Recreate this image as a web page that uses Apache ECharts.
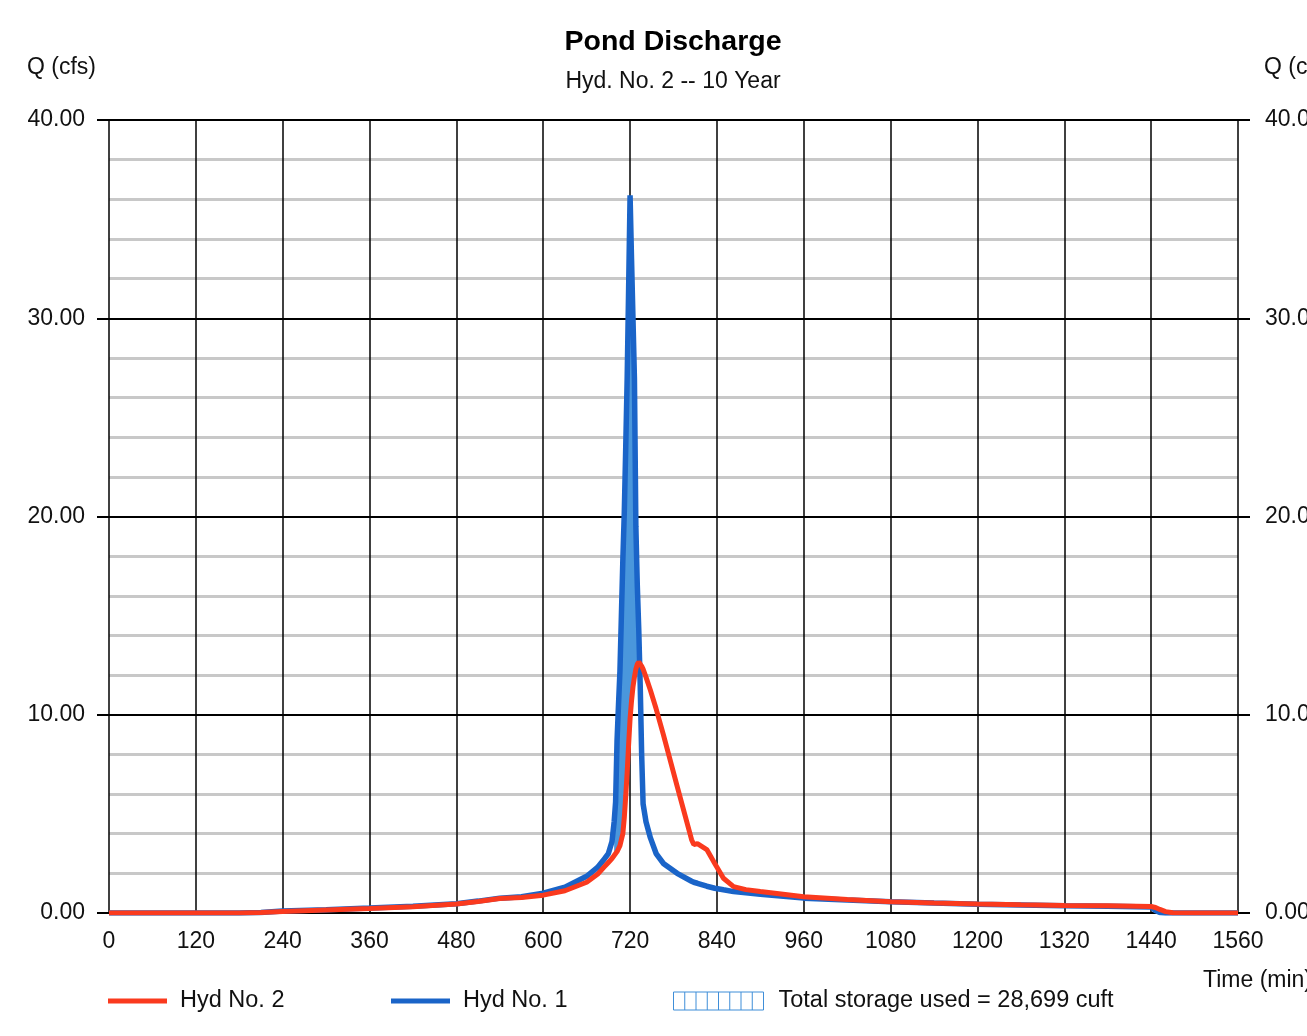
<!DOCTYPE html>
<html>
<head>
<meta charset="utf-8">
<script src="https://cdn.jsdelivr.net/npm/echarts@6/dist/echarts.min.js"></script>
<style>
html,body{margin:0;padding:0;background:#fff;}
#chart{width:1307px;height:1036px;}
</style>
</head>
<body>
<div id="chart"></div>
<script>
// Time (min)
var times = [0, 60, 120, 180, 210, 240, 300, 360, 420, 480, 510, 540, 570, 600, 630, 660, 675, 685, 690, 695, 698, 700, 702, 704, 706, 708, 710, 712, 714, 716, 718, 720, 722, 724, 726, 728, 730, 732, 734, 736, 738, 742, 748, 756, 766, 785, 805, 808, 813, 826, 837, 849, 863, 880, 900, 960, 1020, 1080, 1140, 1200, 1260, 1320, 1380, 1440, 1446, 1452, 1460, 1470, 1500, 1560];
// Hyd No. 1 (inflow), cfs
var hyd1 = [0, 0, 0, 0, 0.03, 0.1, 0.17, 0.25, 0.34, 0.47, 0.6, 0.75, 0.82, 1.0, 1.3, 1.85, 2.3, 2.75, 3.0, 3.6, 4.6, 5.6, 8.7, 10.5, 12.2, 15, 17.8, 20.2, 23.5, 27, 31.5, 36.2, 33, 30, 27, 19.5, 16.5, 14.3, 11.5, 8, 5.5, 4.6, 3.8, 3.0, 2.5, 2.0, 1.6, 1.55, 1.5, 1.35, 1.25, 1.17, 1.08, 1.02, 0.95, 0.75, 0.65, 0.57, 0.5, 0.44, 0.4, 0.36, 0.34, 0.3, 0.12, 0.02, 0, 0, 0, 0];
// Hyd No. 2 (outflow), cfs
var hyd2 = [0, 0, 0, 0, 0.02, 0.07, 0.15, 0.23, 0.32, 0.45, 0.58, 0.73, 0.78, 0.9, 1.12, 1.55, 1.95, 2.35, 2.55, 2.75, 2.9, 3.0, 3.1, 3.25, 3.4, 3.7, 4.0, 4.8, 5.9, 7.1, 8.5, 9.8, 10.7, 11.4, 11.9, 12.3, 12.55, 12.66, 12.6, 12.45, 12.3, 11.9, 11.25, 10.3, 9.0, 6.4, 3.7, 3.45, 3.5, 3.2, 2.5, 1.75, 1.33, 1.18, 1.08, 0.82, 0.68, 0.57, 0.5, 0.45, 0.41, 0.38, 0.36, 0.33, 0.28, 0.18, 0.07, 0.01, 0, 0];
var yTicks = [0, 10, 20, 30, 40];
var xTicks = [0, 120, 240, 360, 480, 600, 720, 840, 960, 1080, 1200, 1320, 1440, 1560];

var FONT = "'Liberation Sans', Arial, sans-serif";
var RED = '#fa3a1e', BLUE = '#1a64c8', FILL = '#4a97dc';
var STORAGE = 'Total storage used = 28,699 cuft';

function pairs(vals){ return times.map(function(t,i){ return [t, vals[i]]; }); }

// storage region: between inflow and outflow where inflow > outflow around the peak
function storageRender(params, api){
  var upper = [], lower = [];
  for (var i = 0; i < times.length; i++){
    if (times[i] < 696 || times[i] > 740) continue;
    var d = hyd1[i] - hyd2[i];
    if (d >= 0){
      upper.push(api.coord([times[i], hyd1[i]]));
      lower.push(api.coord([times[i], hyd2[i]]));
      var dn = hyd1[i+1] - hyd2[i+1];
      if (dn < 0){
        var f = d / (d - dn);
        var tc = times[i] + f*(times[i+1]-times[i]);
        var vc = hyd1[i] + f*(hyd1[i+1]-hyd1[i]);
        upper.push(api.coord([tc, vc]));
        break;
      }
    }
  }
  var pts = upper.concat(lower.reverse());
  return {type:'polygon', shape:{points:pts}, style:{fill:FILL}};
}

var hatch = 'path://M0,0H80V16H0Z M10,0V16 M20,0V16 M30,0V16 M40,0V16 M50,0V16 M60,0V16 M70,0V16';

var LFS = 23.5;
var legendBase = {orient:'horizontal', top:989, itemGap:0, padding:0,
  textStyle:{fontFamily:FONT, fontSize:LFS, color:'#111', padding:[0,0,0,8]}};

var chart = echarts.init(document.getElementById('chart'), null, {renderer:'canvas'});
chart.setOption({
  backgroundColor:'#fff',
  animation:false,
  textStyle:{fontFamily:FONT},
  title:[
    {text:'Pond Discharge', left:673, top:28, textAlign:'center', padding:0,
     textStyle:{fontFamily:FONT, fontSize:28.5, fontWeight:'bold', color:'#000'}},
    {text:'Hyd. No. 2 -- 10 Year', left:673, top:70, textAlign:'center', padding:0,
     textStyle:{fontFamily:FONT, fontSize:23, fontWeight:'normal', color:'#111'}}
  ],
  legend:[
    Object.assign({}, legendBase, {left:108, itemWidth:59, itemHeight:5,
      data:[{name:'Hyd No. 2', icon:'rect'}]}),
    Object.assign({}, legendBase, {left:391, itemWidth:59, itemHeight:5,
      data:[{name:'Hyd No. 1', icon:'rect'}]}),
    Object.assign({}, legendBase, {left:673, itemWidth:90, itemHeight:18,
      textStyle:{fontFamily:FONT, fontSize:LFS, color:'#111', padding:[0,0,0,10]},
      data:[{name:STORAGE, icon:hatch,
        itemStyle:{color:'rgba(0,0,0,0)', borderColor:'#3f8ed8', borderWidth:1}}]})
  ],
  graphic:[
    {type:'text', left:27, top:56, style:{text:'Q (cfs)', font:'23px '+FONT, fill:'#111'}},
    {type:'text', left:1264, top:56, style:{text:'Q (cfs)', font:'23px '+FONT, fill:'#111'}},
    {type:'text', left:1203, top:969, style:{text:'Time (min)', font:'23px '+FONT, fill:'#111'}}
  ],
  grid:{left:109, right:69, top:120, bottom:123, containLabel:false, outerBoundsMode:'none'},
  xAxis:{
    type:'value', min:xTicks[0], max:xTicks[xTicks.length-1], interval:120,
    axisLine:{show:true, lineStyle:{color:'#000', width:2}},
    axisTick:{show:false},
    axisLabel:{fontFamily:FONT, fontSize:23, color:'#111', margin:17, showMaxLabel:true, showMinLabel:true,
      formatter:function(v){return String(v);}},
    splitLine:{show:true, lineStyle:{color:'#000', width:1.5}}
  },
  yAxis:[
    {type:'value', position:'left', min:yTicks[0], max:yTicks[yTicks.length-1], interval:10,
     axisLine:{show:false},
     axisTick:{show:true, length:12, lineStyle:{color:'#000', width:2}},
     axisLabel:{fontFamily:FONT, fontSize:23, color:'#111', margin:24,
       formatter:function(v){return v.toFixed(2);}},
     splitLine:{show:true, lineStyle:{color:'#000', width:2}},
     minorTick:{show:false, splitNumber:5},
     minorSplitLine:{show:true, lineStyle:{color:'#c8c8c8', width:3}}
    },
    {type:'value', position:'right', min:yTicks[0], max:yTicks[yTicks.length-1], interval:10,
     axisLine:{show:false},
     axisTick:{show:true, length:12, lineStyle:{color:'#000', width:2}},
     axisLabel:{fontFamily:FONT, fontSize:23, color:'#111', margin:27,
       formatter:function(v){return v.toFixed(2);}},
     splitLine:{show:false}
    }
  ],
  series:[
    {name:STORAGE, type:'custom', renderItem:storageRender, data:[0], clip:true, z:1,
     itemStyle:{color:FILL}, silent:true},
    {name:'Hyd No. 1', type:'line', data:pairs(hyd1), showSymbol:false, symbol:'none',
     lineStyle:{color:BLUE, width:5.5}, itemStyle:{color:BLUE}, z:3},
    {name:'Hyd No. 2', type:'line', data:pairs(hyd2), showSymbol:false, symbol:'none',
     lineStyle:{color:RED, width:5}, itemStyle:{color:RED}, z:4}
  ]
});
</script>
</body>
</html>
